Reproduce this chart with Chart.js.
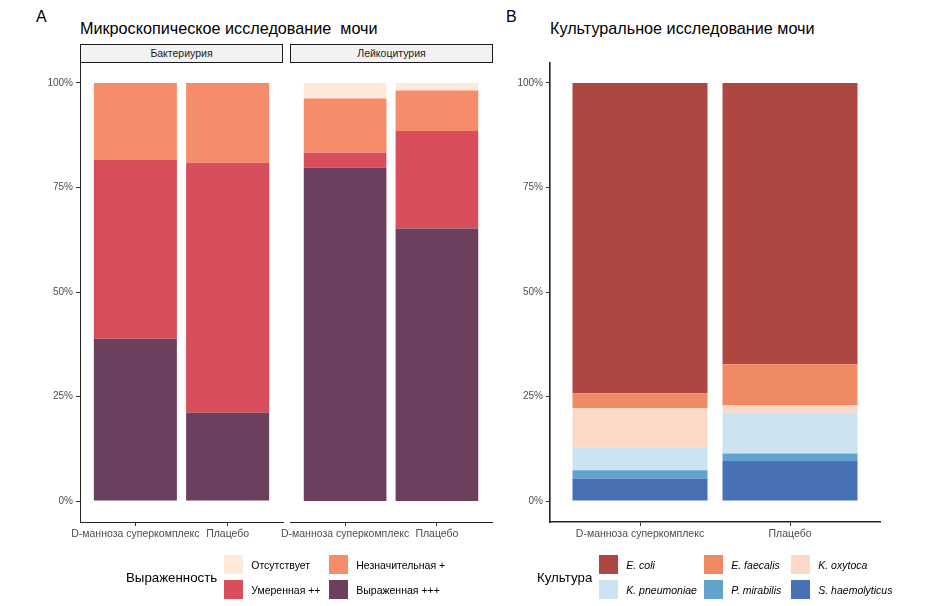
<!DOCTYPE html>
<html>
<head>
<meta charset="utf-8">
<script src="https://cdn.jsdelivr.net/npm/chart.js@4.4.1/dist/chart.umd.min.js"></script>
<style>
body { margin: 0; background: #fff; font-family: 'Liberation Sans', Arial, sans-serif; }
#wrap { position: relative; width: 950px; height: 606px; overflow: hidden; }
canvas { position: absolute; }
.lbl { position: absolute; color: #000; white-space: nowrap; }
.strip { position: absolute; top: 44px; height: 17px; background: #f2f2f2; border: 1px solid #1a1a1a;
  font-size: 10.5px; line-height: 17px; text-align: center; color: #1a1a1a; }
.legend { position: absolute; top: 555px; display: flex; align-items: center; }
.legend .ttl { font-size: 13.3px; color: #000; }
.legend .grid { display: grid; row-gap: 6px; }
.legend .item { display: flex; align-items: center; font-size: 10.5px; color: #000; }
.legend .sw { width: 19px; height: 19px; margin-right: 8px; flex-shrink: 0; }
</style>
</head>
<body>
<div id="wrap">
  <div class="lbl" style="left:36px; top:8px; font-size:16px;">A</div>
  <div class="lbl" style="left:80px; top:19px; font-size:16.2px;">Микроскопическое исследование&nbsp; мочи</div>
  <div class="strip" style="left:80px; width:201px;">Бактериурия</div>
  <div class="strip" style="left:290px; width:201px;">Лейкоцитурия</div>
  <canvas id="chartA1" width="290" height="500" style="left:0; top:62px;"></canvas>
  <canvas id="chartA2" width="220" height="500" style="left:280px; top:62px;"></canvas>

  <div class="lbl" style="left:506px; top:8px; font-size:16px;">B</div>
  <div class="lbl" style="left:550px; top:19px; font-size:16.2px;">Культуральное исследование мочи</div>
  <canvas id="chartB" width="430" height="500" style="left:460px; top:62px;"></canvas>

  <div class="legend" id="legendA" style="left:126px;"></div>
  <div class="legend" id="legendB" style="left:537px;"></div>
</div>
<script>
// группы по оси X
const groups = ['D-манноза суперкомплекс', 'Плацебо'];

// A: выраженность (%), порядок в стопке снизу вверх
const levelsA = ['Выраженная +++', 'Умеренная ++', 'Незначительная +', 'Отсутствует'];
const colorsA = ['#6d3f5f', '#d84e5c', '#f68c6a', '#fdeadb'];
const bactVyr = [38.8, 21.1];
const bactUmer = [42.8, 59.8];
const bactNezn = [18.4, 19.1];
const bactOtsut = [0, 0];
const leukVyr = [79.7, 65.2];
const leukUmer = [3.6, 23.3];
const leukNezn = [13.0, 9.7];
const leukOtsut = [3.7, 1.8];

// B: культура (%), снизу вверх
const speciesB = ['S. haemolyticus', 'P. mirabilis', 'K. pneumoniae', 'K. oxytoca', 'E. faecalis', 'E. coli'];
const colorsB = ['#4870b5', '#62a3cd', '#cce3f1', '#fdd8c6', '#f08a64', '#ae4742'];
const shaem = [5.4, 9.6];
const pmir = [2.0, 1.8];
const kpn = [5.4, 9.7];
const koxy = [9.4, 1.9];
const efaec = [3.6, 9.7];
const ecoli = [74.2, 67.3];

const yTicks = [0, 25, 50, 75, 100];

function makeDatasets(names, colors, series) {
  return names.map((n, k) => ({
    label: n,
    backgroundColor: colors[k],
    borderWidth: 0,
    data: series[k].map((v, i) => ({x: i + 1, y: v})),
    categoryPercentage: 1,
    barPercentage: 0.9,
  }));
}

function makeOptions(showY, yWidth, padLeft, padRight, axisW) {
  return {
    responsive: false,
    animation: false,
    devicePixelRatio: 1,
    layout: {padding: {left: padLeft, right: padRight, top: 0, bottom: 0}},
    plugins: {legend: {display: false}, tooltip: {enabled: false}},
    scales: {
      x: {
        type: 'linear',
        offset: false,
        stacked: true,
        min: 0.4,
        max: 2.6,
        afterBuildTicks: (s) => { s.ticks = groups.map((g, i) => ({value: i + 1})); },
        afterFit: (s) => { s.height = 40; s.paddingLeft = 0; s.paddingRight = 0; },
        ticks: {
          autoSkip: false, maxRotation: 0, padding: 2,
          color: '#4d4d4d', font: {family: "'Liberation Sans', Arial", size: 10.5},
          callback: (v) => groups[v - 1],
        },
        grid: {display: true, offset: false, drawOnChartArea: false, drawTicks: true, tickLength: 4, color: '#333'},
        border: {display: true, color: '#222', width: axisW},
      },
      y: {
        display: showY,
        stacked: true,
        min: -5,
        max: 105,
        afterBuildTicks: (s) => { s.ticks = yTicks.map(v => ({value: v})); },
        afterFit: (s) => { s.width = yWidth; s.paddingTop = 0; s.paddingBottom = 0; },
        ticks: {
          padding: 3,
          color: '#4d4d4d', font: {family: "'Liberation Sans', Arial", size: 10},
          callback: (v) => v + '%',
        },
        grid: {display: true, drawOnChartArea: false, drawTicks: true, tickLength: 4, color: '#333'},
        border: {display: true, color: '#222', width: axisW},
      }
    }
  };
}

new Chart(document.getElementById('chartA1'), {
  type: 'bar',
  data: {datasets: makeDatasets(levelsA, colorsA, [bactVyr, bactUmer, bactNezn, bactOtsut])},
  options: makeOptions(true, 80, 0, 7, 1),
});

new Chart(document.getElementById('chartA2'), {
  type: 'bar',
  data: {datasets: makeDatasets(levelsA, colorsA, [leukVyr, leukUmer, leukNezn, leukOtsut])},
  options: makeOptions(false, 0, 10, 8, 1),
});

new Chart(document.getElementById('chartB'), {
  type: 'bar',
  data: {datasets: makeDatasets(speciesB, colorsB, [shaem, pmir, kpn, koxy, efaec, ecoli])},
  options: makeOptions(true, 90, 0, 10, 1.6),
});

// легенды (в порядке ggplot, по строкам)
function buildLegend(id, title, names, colors, order, cols, italic) {
  const box = document.getElementById(id);
  const t = document.createElement('div');
  t.className = 'ttl';
  t.textContent = title;
  t.style.marginRight = '7px';
  box.appendChild(t);
  const grid = document.createElement('div');
  grid.className = 'grid';
  grid.style.gridTemplateColumns = cols.map(c => c + 'px').join(' ');
  order.forEach(k => {
    const it = document.createElement('div');
    it.className = 'item';
    const sw = document.createElement('span');
    sw.className = 'sw';
    sw.style.background = colors[k];
    const tx = document.createElement('span');
    tx.textContent = names[k];
    if (italic) tx.style.fontStyle = 'italic';
    it.appendChild(sw);
    it.appendChild(tx);
    grid.appendChild(it);
  });
  box.appendChild(grid);
}

buildLegend('legendA', 'Выраженность', levelsA, colorsA, [3, 2, 1, 0], [105, 120], false);
buildLegend('legendB', 'Культура', speciesB, colorsB, [5, 4, 3, 2, 1, 0], [105, 87, 120], true);
</script>
</body>
</html>
